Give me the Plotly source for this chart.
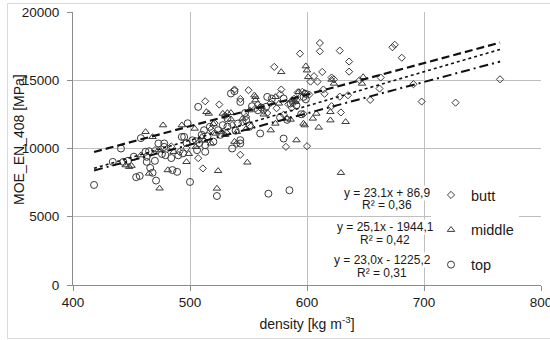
import plotly.graph_objects as go

# ---------------- data ----------------
butt_x = [765, 727, 698, 691, 681, 675, 673, 662, 663, 654, 636, 636, 635, 628, 628, 629,
          611, 611, 613, 614, 621, 621, 603, 606, 602, 600, 597, 596, 594, 591, 587, 582,
          578, 577, 572, 569, 563, 558, 550, 548, 543, 538, 543, 525, 513, 511, 507, 518,
          531, 497, 521, 545, 556, 584, 589, 645, 615, 580, 574, 536, 540, 566, 598, 623,
          505, 491, 484, 470, 530, 552, 609, 592]
butt_y = [15070, 13360, 13440, 14710, 16650, 17600, 17420, 14390, 15200, 13560, 16370, 15630,
          13900, 17170, 13800, 12640, 17730, 17120, 15610, 14320, 15200, 13100, 14900, 15300,
          13950, 10170, 12540, 14150, 16950, 13540, 12980, 10120, 14320, 13980, 15980, 13340,
          12760, 13230, 14270, 12320, 13630, 14320, 9540, 13220, 13460, 8540, 9290, 11390,
          11140, 10020, 11860, 11920, 12930, 13240, 13640, 15000, 14010, 12480, 12950, 11720,
          10340, 12600, 14060, 15060, 10560, 9760, 10150, 9880, 12400, 11600, 14900, 14100]

middle_x = [462, 468, 477, 493, 504, 514, 516, 528, 535, 532, 474, 465, 445, 448, 450, 481,
            497, 524, 523, 549, 551, 556, 556, 569, 573, 573, 578, 586, 591, 593, 598, 599,
            600, 601, 605, 608, 610, 620, 620, 621, 623, 633, 629, 648, 647, 518, 510, 522,
            540, 545, 560, 583, 597, 576, 590, 520, 527, 538, 499, 505, 486, 473, 458, 530,
            563, 587, 548, 512, 555, 535]
middle_y = [11220, 10850, 11710, 11710, 11460, 12680, 12560, 12560, 12610, 12610, 7080, 8170,
            8780, 8660, 8740, 8420, 9020, 8360, 7070, 8980, 12810, 13780, 13540, 11340, 11830,
            13780, 15610, 12120, 10610, 14150, 11710, 16030, 15730, 15240, 12200, 12560, 11540,
            12680, 12070, 15050, 14760, 11950, 8220, 15240, 14760, 10370, 10850, 11100, 11220,
            12200, 13050, 12200, 11830, 13300, 13420, 11800, 11200, 10500, 9610, 10120, 9760,
            9880, 9510, 11000, 12500, 13550, 11450, 10600, 13900, 12150]

top_x = [418, 434, 441, 443, 454, 457, 458, 462, 463, 463, 466, 468, 471, 473, 478, 479, 478,
         485, 489, 493, 495, 494, 500, 498, 506, 513, 513, 512, 523, 567, 585, 507, 535, 538,
         566, 570, 528, 524, 560, 541, 548, 517, 536, 543, 543, 580, 565, 577, 595, 586, 591,
         580, 597, 553, 543, 470, 476, 484, 490, 497, 502, 508, 515, 520, 526, 532, 551, 558,
         583, 588, 599, 465, 452, 447, 532, 547, 561, 599, 539, 510]
top_y = [7330, 9020, 10000, 9020, 7900, 7990, 10760, 9760, 9390, 9020, 8580, 8220, 7650, 10370,
         10370, 9510, 10120, 8420, 8290, 10850, 10850, 9640, 7550, 11850, 9880, 9760, 10240,
         11340, 6520, 6690, 6940, 13050, 14030, 14200, 13780, 13660, 11710, 11340, 11100, 11830,
         12070, 11590, 10000, 10370, 10610, 10730, 13050, 12270, 12510, 13300, 13170, 13660,
         13780, 13100, 13410, 9100, 9600, 9300, 9500, 10400, 10600, 10400, 10900, 10500, 11000,
         11600, 11700, 12800, 12100, 13400, 14000, 9800, 9400, 9100, 12200, 12600, 13000, 13600,
         11300, 11000]

series_names = ["butt", "middle", "top"]
trend_slopes = [23.1, 25.1, 23.0]
trend_intercepts = [86.9, -1944.1, -1225.2]
trend_r2 = [0.36, 0.42, 0.31]
trend_range = [418, 765]

x_ticks = [400, 500, 600, 700, 800]
y_ticks = [0, 5000, 10000, 15000, 20000]

# ---------------- figure ----------------
W, H = 550, 340
ML, MR, MT, MB = 73, 9, 12, 55
PW, PH = W - ML - MR, H - MT - MB


def px_x(p):
    return (p - ML) / PW


def px_y(p):
    return (H - MB - p) / PH


FONT = "Liberation Sans, Arial, sans-serif"
MK = "#3a3a3a"

fig = go.Figure()

symbols = ["diamond-open", "triangle-up-open", "circle-open"]
sizes = [5.5, 6.5, 7]
xs = [butt_x, middle_x, top_x]
ys = [butt_y, middle_y, top_y]
for name, sx, sy, sym, sz in zip(series_names, xs, ys, symbols, sizes):
    fig.add_trace(go.Scatter(
        x=sx, y=sy, mode="markers", name=name, legendgroup=name,
        marker=dict(symbol=sym, size=sz, color=MK, line=dict(color=MK, width=1)),
    ))

dashes = ["8px,4px", "dot", "9px,4px,2px,4px"]
widths = [2.2, 1.6, 2.0]
for s, b, d, w in zip(trend_slopes, trend_intercepts, dashes, widths):
    fig.add_trace(go.Scatter(
        x=trend_range, y=[s * v + b for v in trend_range], mode="lines",
        line=dict(color="#111111", width=w, dash=d), showlegend=False, hoverinfo="skip",
    ))


def fmt(v):
    return f"{abs(v):.1f}".replace(".", ",")


eq_pos = [(387, 192.7, 205.5), (385, 227, 240), (382, 259.5, 272.5)]
annotations = []
for s, b, r, (cx, y1, y2) in zip(trend_slopes, trend_intercepts, trend_r2, eq_pos):
    sign = "+" if b >= 0 else "-"
    l1 = f"y = {fmt(s)}x {sign} {fmt(b)}"
    l2 = f"R² = {r:.2f}".replace(".", ",")
    for txt, yy in ((l1, y1), (l2, y2)):
        annotations.append(dict(
            text=txt, xref="paper", yref="paper", x=px_x(cx), y=px_y(yy),
            xanchor="center", yanchor="middle", showarrow=False,
            font=dict(family=FONT, size=12, color="#1a1a1a"),
            bgcolor="white", borderpad=0,
        ))

annotations.append(dict(
    text="MOE_EN_408 [MPa]", xref="paper", yref="paper", x=px_x(19), y=px_y(140),
    xanchor="center", yanchor="middle", textangle=-90, showarrow=False,
    font=dict(family=FONT, size=14, color="#1a1a1a"),
))

fig.update_layout(
    width=W, height=H, autosize=False,
    margin=dict(l=ML, r=MR, t=MT, b=MB, autoexpand=False),
    paper_bgcolor="white", plot_bgcolor="white",
    font=dict(family=FONT, color="#1a1a1a"),
    showlegend=True,
    legend=dict(
        x=px_x(431), y=px_y(179), xanchor="left", yanchor="top",
        bgcolor="white", borderwidth=0, tracegroupgap=13,
        font=dict(family=FONT, size=14.5, color="#1a1a1a"),
    ),
    annotations=annotations,
    shapes=[dict(type="rect", xref="paper", yref="paper",
                 x0=px_x(7.5), x1=px_x(600), y0=px_y(338.5), y1=px_y(3.5),
                 line=dict(color="#d9d9d9", width=1), fillcolor="rgba(0,0,0,0)",
                 layer="below")],
)

axis_common = dict(
    showgrid=True, gridcolor="#bfbfbf", gridwidth=1,
    showline=True, linecolor="#8c8c8c", linewidth=1,
    ticks="outside", ticklen=5, tickcolor="#8c8c8c",
    zeroline=False, tickfont=dict(family=FONT, size=13.5, color="#1a1a1a"),
    ticklabeloverflow="allow", automargin=False,
)
fig.update_xaxes(range=[400, 800], tickvals=x_ticks, **axis_common,
                 title=dict(text="density [kg m<sup>-3</sup>]", standoff=9,
                            font=dict(family=FONT, size=14, color="#1a1a1a")))
fig.update_yaxes(range=[0, 20000], tickvals=y_ticks, tickformat="d",
                 ticklabelstandoff=5, **axis_common)

fig.write_html("out.html", config={"displayModeBar": False},
               post_script="document.body.style.margin='0';document.body.style.overflow='hidden';")
